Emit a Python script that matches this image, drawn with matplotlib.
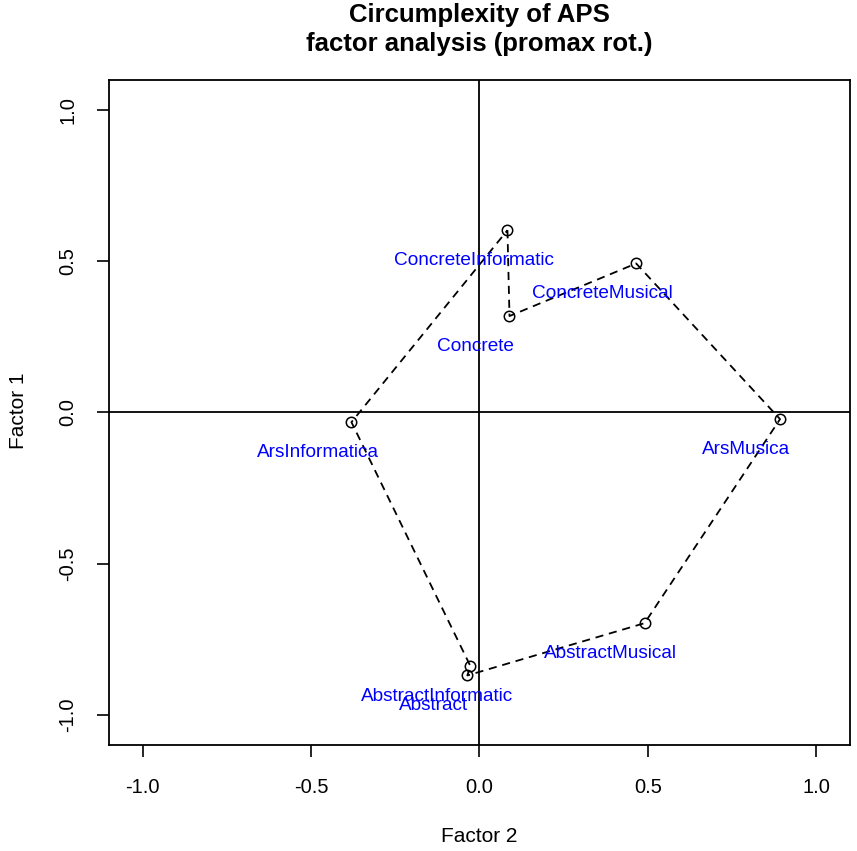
import matplotlib
matplotlib.use("Agg")
import matplotlib.pyplot as plt
import numpy as np

# factor loadings, in the order the polygon is traced
scales = ["ConcreteInformatic", "Concrete", "ConcreteMusical", "ArsMusica",
          "AbstractMusical", "Abstract", "AbstractInformatic", "ArsInformatica"]
factor2 = [0.083, 0.089, 0.465, 0.892, 0.490, -0.036, -0.027, -0.380]
factor1 = [0.603, 0.319, 0.493, -0.022, -0.697, -0.870, -0.839, -0.032]
ticks = [-1.0, -0.5, 0.0, 0.5, 1.0]
tick_labels = ["-1.0", "-0.5", "0.0", "0.5", "1.0"]

plt.rcParams["font.family"] = ["Liberation Sans", "DejaVu Sans"]

fig = plt.figure(figsize=(8.57, 8.51), dpi=100)
ax = fig.add_axes([0.127, 0.1246, 0.865, 0.7814])

# axes through origin
ax.axhline(0, color="black", lw=1.3, zorder=1)
ax.axvline(0, color="black", lw=1.3, zorder=1)

# closed dashed polygon + open circles
xs = factor2 + factor2[:1]
ys = factor1 + factor1[:1]
ax.plot(xs, ys, color="black", lw=1.3, linestyle=(0, (4.5, 3.2)), zorder=2)
ax.plot(factor2, factor1, "o", mfc="none", mec="black", ms=7.5, mew=1.1, zorder=3)

# labels shifted down-left from each point
off = 0.1
for name, x, y in zip(scales, factor2, factor1):
    ax.text(x - off, y - off, name, color="blue", fontsize=13.7,
            ha="center", va="center", zorder=4)

ax.set_xlim(-1.1, 1.1)
ax.set_ylim(-1.1, 1.1)
ax.set_xticks(ticks)
ax.set_xticklabels(tick_labels)
ax.set_yticks(ticks)
ax.set_yticklabels(tick_labels, rotation=90, va="center")
ax.tick_params(direction="out", length=8.6, width=1.2, labelsize=14.5)
ax.tick_params(axis="x", pad=15)
ax.tick_params(axis="y", pad=14)
for s in ax.spines.values():
    s.set_linewidth(1.3)

fig.text(479 / 857, 1 - 837 / 851, "Factor 2", ha="center", va="center", fontsize=15)
fig.text(19 / 857, 1 - 411 / 851, "Factor 1", ha="center", va="center",
         rotation=90, fontsize=15)

fig.text(479 / 857, 1 - 21.7 / 851, "Circumplexity of APS", ha="center",
         va="baseline", fontsize=18.5, fontweight="bold")
fig.text(479 / 857, 1 - 51 / 851, "factor analysis (promax rot.)", ha="center",
         va="baseline", fontsize=18.5, fontweight="bold")

fig.savefig("out.png", dpi=100)
